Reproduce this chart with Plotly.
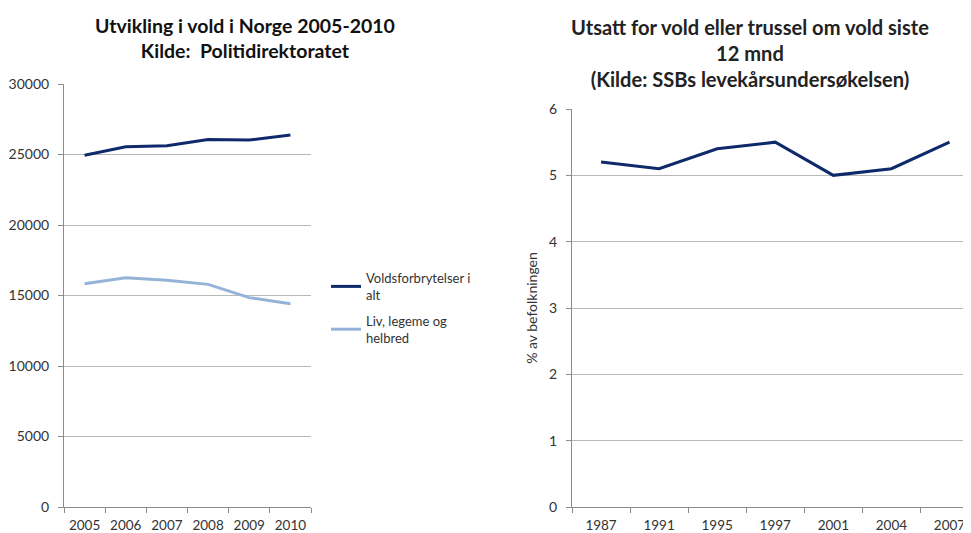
import plotly.graph_objects as go

years_left = ["2005", "2006", "2007", "2008", "2009", "2010"]
volds_total = [24950, 25550, 25620, 26070, 26030, 26380]
liv_legeme = [15840, 16260, 16080, 15790, 14850, 14420]

years_right = ["1987", "1991", "1995", "1997", "2001", "2004", "2007"]
utsatt_pct = [5.2, 5.1, 5.4, 5.5, 5.0, 5.1, 5.5]

# page has 8px body margin: figure occupies screen x 8..971, y 8..533
OFF = 8
SW, SH = 971, 533
FW, FH = SW - OFF, SH - OFF


def px(sx):
    return (sx - OFF) / FW


def py(sy):
    return (SH - sy) / FH


FONT = "Lato, 'Open Sans', sans-serif"
TXT = "#333333"
GRID = "#b8b8b8"
AX = "#8c8c8c"

fig = go.Figure()
fig.add_trace(go.Scatter(x=years_left, y=volds_total, mode="lines",
                         name="Voldsforbrytelser i<br>alt", legendgroup="a",
                         line=dict(color="#0f2a6b", width=3), xaxis="x", yaxis="y"))
fig.add_trace(go.Scatter(x=years_left, y=liv_legeme, mode="lines",
                         name="Liv, legeme og<br>helbred", legendgroup="b",
                         line=dict(color="#95b3d7", width=3), xaxis="x", yaxis="y"))
fig.add_trace(go.Scatter(x=years_right, y=utsatt_pct, mode="lines",
                         showlegend=False,
                         line=dict(color="#0f2a6b", width=3), xaxis="x2", yaxis="y2"))

common_x = dict(type="category", showgrid=False, showline=True, linecolor=AX, linewidth=1,
                ticks="outside", ticklen=5, tickcolor=AX, tickson="boundaries",
                automargin=False, tickangle=0, ticklabelstandoff=6,
                tickfont=dict(family=FONT, size=13.5, color=TXT), zeroline=False)
common_y = dict(showgrid=True, gridcolor=GRID, gridwidth=1, showline=True, linecolor=AX,
                linewidth=1, ticks="outside", ticklen=5, tickcolor=AX, zeroline=False,
                automargin=False, ticklabelstandoff=6,
                tickfont=dict(family=FONT, size=14, color=TXT))

fig.update_layout(
    width=FW, height=FH,
    margin=dict(l=0, r=0, t=0, b=0, autoexpand=False),
    paper_bgcolor="white", plot_bgcolor="white",
    xaxis=dict(common_x, domain=[px(64), px(311)], range=[-0.5, 5.5], anchor="y"),
    yaxis=dict(common_y, domain=[py(507), py(84)], range=[0, 30000], dtick=5000,
               tickformat="d", anchor="x"),
    xaxis2=dict(common_x, domain=[px(572), 1.0], range=[-0.5, 6.37], anchor="y2"),
    yaxis2=dict(common_y, domain=[py(507), py(109)], range=[0, 6], dtick=1, anchor="x2",
                title=dict(text="% av befolkningen", font=dict(family=FONT, size=14, color=TXT),
                           standoff=8)),
    legend=dict(x=px(326), y=py(263), xanchor="left", yanchor="top",
                font=dict(family=FONT, size=13, color=TXT), tracegroupgap=6,
                bgcolor="rgba(0,0,0,0)", itemwidth=30),
    annotations=[
        dict(text="<b>Utvikling i vold i Norge 2005-2010<br>Kilde:  Politidirektoratet</b>",
             x=px(245), y=py(12), xref="paper", yref="paper", xanchor="center",
             yanchor="top", showarrow=False, align="center",
             font=dict(family=FONT, size=19.5, color="#111111")),
        dict(text="<b>Utsatt for vold eller trussel om vold siste<br>12 mnd<br>(Kilde: SSBs levekårsundersøkelsen)</b>",
             x=px(750), y=py(13), xref="paper", yref="paper", xanchor="center",
             yanchor="top", showarrow=False, align="center",
             font=dict(family=FONT, size=20.1, color="#222222")),
    ],
)

fig.write_html("out.html")
